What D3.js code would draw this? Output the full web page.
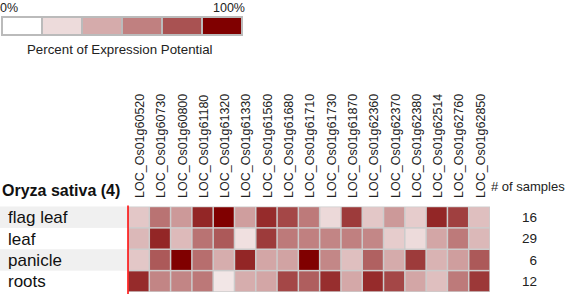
<!DOCTYPE html>
<html>
<head>
<meta charset="utf-8">
<script src="https://cdn.jsdelivr.net/npm/d3@7"></script>
<style>
  body { margin: 0; background: #fff; }
  svg { display: block; font-family: Arial, "Liberation Sans", sans-serif; }
</style>
</head>
<body>
<script>
//DATA
const genes = ["LOC_Os01g60520", "LOC_Os01g60730", "LOC_Os01g60800", "LOC_Os01g61180",
  "LOC_Os01g61320", "LOC_Os01g61330", "LOC_Os01g61560", "LOC_Os01g61680",
  "LOC_Os01g61710", "LOC_Os01g61730", "LOC_Os01g61870", "LOC_Os01g62360",
  "LOC_Os01g62370", "LOC_Os01g62380", "LOC_Os01g62514", "LOC_Os01g62760",
  "LOC_Os01g62850"]
const tissues = ["flag leaf", "leaf", "panicle", "roots"]
const samples = [16, 29, 6, 12]
// percent of expression potential, one array per tissue
const flagLeaf = [22, 55, 40, 85, 100, 38, 83, 72, 52, 15, 77, 22, 40, 20, 85, 75, 25]
const leaf     = [28, 85, 27, 55, 65, 12, 77, 52, 50, 48, 50, 47, 20, 14, 35, 52, 28]
const panicle  = [22, 65, 100, 57, 32, 85, 35, 36, 100, 47, 25, 62, 33, 77, 30, 38, 65]
const roots    = [83, 48, 48, 53, 10, 32, 35, 72, 63, 82, 34, 83, 72, 35, 25, 52, 78]
const legendSteps = [0, 14, 33, 50, 68, 100]

const values = [flagLeaf, leaf, panicle, roots]

//USEFUL VARIABLES
const svgwidth = 567
const svgheight = 294
const grid = { left: 128, right: 490, top: 206.5, bottom: 292 }

const svg = d3.select("body").append("svg")
    .attr("width", svgwidth)
    .attr("height", svgheight)

//SCALES
const X = d3.scaleBand().domain(genes).range([grid.left, grid.right])
const Y = d3.scaleBand().domain(tissues).range([grid.top, grid.bottom])
const colorGen = d3.scaleLinear().domain([0, 100])
    .range(["#ffffff", "#800000"])
    .interpolate(d3.interpolateRgb)

//LEGEND
const legend = svg.append("g").classed("legend", true)
legend.append("text").attr("x", 0).attr("y", 11.5)
    .style("font-size", "12.5px").attr("fill", "#222").text("0%")
legend.append("text").attr("x", 245).attr("y", 11.5)
    .attr("text-anchor", "end")
    .style("font-size", "12.5px").attr("fill", "#222").text("100%")
const LX = d3.scaleBand().domain(d3.range(legendSteps.length)).range([2, 242])
legend.selectAll("rect")
    .data(legendSteps)
    .enter().append("rect")
    .attr("x", (d, i) => LX(i))
    .attr("y", 17)
    .attr("width", LX.bandwidth())
    .attr("height", 18)
    .attr("fill", d => colorGen(d))
    .attr("stroke", "#bbbbbb")
    .attr("stroke-width", 2)
legend.append("text").attr("x", 27).attr("y", 54)
    .style("font-size", "13.3px").attr("fill", "#222")
    .text("Percent of Expression Potential")

//ROW BACKGROUNDS + LABELS
svg.selectAll(".rowbg")
    .data(tissues.filter((d, i) => i % 2 == 0))
    .enter().append("rect").classed("rowbg", true)
    .attr("x", 0)
    .attr("y", d => Y(d))
    .attr("width", grid.left)
    .attr("height", Y.bandwidth())
    .attr("fill", "#f0f0f0")

svg.selectAll(".rowlabel")
    .data(tissues)
    .enter().append("text").classed("rowlabel", true)
    .attr("x", 8)
    .attr("y", d => Y(d) + Y.bandwidth() / 2)
    .attr("dy", "0.36em")
    .style("font-size", "17px")
    .attr("fill", "#111")
    .text(d => d)

svg.append("text").attr("x", 2).attr("y", 196)
    .style("font-size", "16px").style("font-weight", "bold")
    .attr("fill", "#111")
    .text("Oryza sativa (4)")

//COLUMN LABELS
svg.selectAll(".collabel")
    .data(genes)
    .enter().append("text").classed("collabel", true)
    .attr("transform", d => `translate(${X(d) + X.bandwidth() / 2 + 1}, 198) rotate(-90)`)
    .attr("dy", "0.35em")
    .style("font-size", "12.5px")
    .attr("fill", "#222")
    .text(d => d)

svg.append("text").attr("x", 491).attr("y", 191)
    .style("font-size", "13px").attr("fill", "#222")
    .text("# of samples")

//CELLS
const cells = []
values.forEach((row, r) => row.forEach((v, c) => cells.push({ tissue: tissues[r], gene: genes[c], value: v })))

svg.append("rect")
    .attr("x", grid.left).attr("y", grid.top)
    .attr("width", grid.right - grid.left).attr("height", grid.bottom - grid.top)
    .attr("fill", "#cccccc")

svg.selectAll(".cell")
    .data(cells)
    .enter().append("rect").classed("cell", true)
    .attr("x", d => X(d.gene) + 0.75)
    .attr("y", d => Y(d.tissue) + 0.75)
    .attr("width", X.bandwidth() - 1.5)
    .attr("height", Y.bandwidth() - 1.5)
    .attr("fill", d => colorGen(d.value))

svg.append("line")
    .attr("x1", grid.left).attr("x2", grid.left)
    .attr("y1", grid.top - 1).attr("y2", svgheight)
    .attr("stroke", "#ff0000").attr("stroke-width", 1.5)

//SAMPLE COUNTS
svg.selectAll(".count")
    .data(samples)
    .enter().append("text").classed("count", true)
    .attr("x", 537)
    .attr("y", (d, i) => Y(tissues[i]) + Y.bandwidth() / 2)
    .attr("dy", "0.36em")
    .attr("text-anchor", "end")
    .style("font-size", "13.5px")
    .attr("fill", "#222")
    .text(d => d)
</script>
</body>
</html>
